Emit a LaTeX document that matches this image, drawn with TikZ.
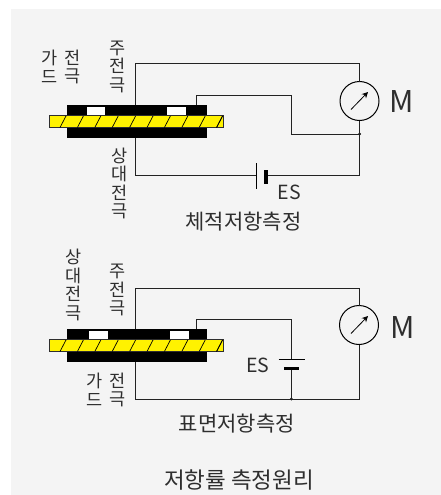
\documentclass[tikz,border=0pt]{standalone}
\usepackage{fontspec}
\setmainfont{Noto Sans CJK KR}
\usetikzlibrary{arrows.meta}
\definecolor{bgc}{HTML}{F4F4F4}
\definecolor{ink}{HTML}{2E2E2E}
\definecolor{wirec}{HTML}{222222}
\definecolor{sheet}{HTML}{FFF200}
\tikzset{
  x=1pt,y=-1pt,
  wire/.style={draw=wirec,line width=1pt,line join=miter},
  black plate/.style={fill=black,draw=none,minimum width=140.5pt,minimum height=10pt,inner sep=0pt,outer sep=0pt},
  gap/.style={fill=white,draw=none,minimum width=18.5pt,minimum height=8pt,inner sep=0pt,outer sep=0pt},
  sheetbox/.style={fill=sheet,draw=ink,line width=1pt,minimum width=174pt,minimum height=12.5pt,inner sep=0pt,outer sep=0pt},
  hatch/.style={draw=black,line width=.7pt},
  meter/.style={circle,draw=black,line width=1pt,fill=bgc,minimum size=39pt,inner sep=0pt,outer sep=0pt},
  needle/.style={draw=black,line width=.8pt,-{Stealth[length=6pt,width=6pt]}},
  label/.style={text=ink,inner sep=0pt,font=\fontsize{17.5}{18.5}\selectfont,align=center},
  title/.style={text=ink,inner sep=0pt,font=\fontsize{21}{24}\selectfont},
  endtitle/.style={text=ink,inner sep=0pt,font=\fontsize{22.5}{24}\selectfont},
  big/.style={text=ink,inner sep=0pt,font=\fontsize{30}{31}\selectfont},
  es/.style={text=ink,inner sep=0pt,font=\fontsize{19.5}{20}\selectfont},
  plate/.style={draw=black,line width=1pt},
  thickplate/.style={draw=black,line width=3.5pt},
  junction/.style={circle,fill=black,inner sep=0pt,minimum size=3pt},
}
\begin{document}
\begin{tikzpicture}
\useasboundingbox (0,0) rectangle (441,495);
\fill[white] (0,0) rectangle (441,495);
\fill[bgc] (11,9) rectangle (441,495);

% --- upper circuit ---
\node[sheetbox] (s1) at (136,121.6) {};
\node[black plate] (t1) at (136.8,110.2) {};
\node[black plate] (b1) at (136.8,133.1) {};
\node[gap] (g1a) at (96,111) {};
\node[gap] (g1b) at (176.5,111) {};
\foreach \x in {0,...,9}
  \draw[hatch] ({60+\x*17.4},127.5) -- ({66+\x*17.4},116);
\draw[hatch] (216.5,127.5) -- (222.5,116);
\node[meter] (m1) at (359.5,101) {};
\draw[needle] (351,109.5) -- (368,92);
\coordinate (a1) at (135.5,105.3);
\coordinate (a2) at (135.5,64);
\coordinate (a3) at (359.5,64);
\coordinate (c1) at (196.7,105.3);
\coordinate (c2) at (196.7,95.3);
\coordinate (c3) at (291.7,95.3);
\coordinate (c4) at (291.7,134);
\node[junction] (j1) at (359.5,134) {};
\coordinate (d1) at (359.5,175.5);
\coordinate (e1) at (135.5,138);
\coordinate (e2) at (135.5,175.5);
\coordinate (p1) at (256.7,175.5);
\coordinate (p2) at (266,175.5);
\draw[wire] (a1) -- (a2) -- (a3) -- (m1.north);
\draw[wire] (m1.south) -- (j1.center) -- (d1) -- (p2);
\draw[wire] (c1) -- (c2) -- (c3) -- (c4) -- (j1.center);
\draw[wire] (e1) -- (e2) -- (p1);
\draw[plate] (256.7,163) -- (256.7,188.7);
\draw[thickplate] (266,170) -- (266,184);

\node[label] (l1) at (72.7,67) {전\\극};
\node[label] (l1b) at (49.3,67) {가\\드};
\node[label] (l3) at (118,66.5) {주\\전\\극};
\node[label] (l4) at (119.3,183.5) {상\\대\\전\\극};
\node[big] (mm1) at (401.4,102) {M};
\node[es] (es1) at (289.3,192) {ES};
\node[title] (t1x) at (243.5,221.5) {체적저항측정};

% --- lower circuit ---
\node[sheetbox] (s2) at (136,345.7) {};
\node[black plate] (t2) at (136.8,334.3) {};
\node[black plate] (b2) at (136.8,357.2) {};
\node[gap] (g2a) at (98.7,335) {};
\node[gap] (g2b) at (179.3,335) {};
\foreach \x in {0,...,9}
  \draw[hatch] ({60+\x*17.4},351.5) -- ({66+\x*17.4},340);
\draw[hatch] (216.5,351.5) -- (222.5,340);
\node[meter] (m2) at (359,325) {};
\draw[needle] (351,333.5) -- (368,316);
\coordinate (f1) at (135,329.3);
\coordinate (f2) at (135,288.7);
\coordinate (f3) at (359,288.7);
\coordinate (h1) at (196.7,329.3);
\coordinate (h2) at (196.7,319.3);
\coordinate (h3) at (291.3,319.3);
\coordinate (h4) at (291.3,359.3);
\coordinate (h5) at (291.3,368.3);
\node[junction] (j2) at (291.3,399) {};
\coordinate (i1) at (359,399);
\coordinate (i2) at (135.5,399);
\coordinate (i3) at (135.5,362);
\draw[wire] (f1) -- (f2) -- (f3) -- (m2.north);
\draw[wire] (m2.south) -- (i1) -- (i2) -- (i3);
\draw[wire] (h1) -- (h2) -- (h3) -- (h4);
\draw[wire] (h5) -- (j2.center);
\draw[plate] (278.7,359.3) -- (305.3,359.3);
\draw[thickplate] (284.3,368.3) -- (299,368.3);

\node[label] (l5) at (74,285) {상\\대\\전\\극};
\node[label] (l6) at (118,290) {주\\전\\극};
\node[label] (l7) at (95,390) {가\\드};
\node[label] (l8) at (118,390) {전\\극};
\node[big] (mm2) at (403,327.5) {M};
\node[es] (es2) at (257.7,365) {ES};
\node[title] (t2x) at (236.7,423.5) {표면저항측정};
\node[endtitle] (t3x) at (239,480.5) {저항률 측정원리};
\end{tikzpicture}
\end{document}
